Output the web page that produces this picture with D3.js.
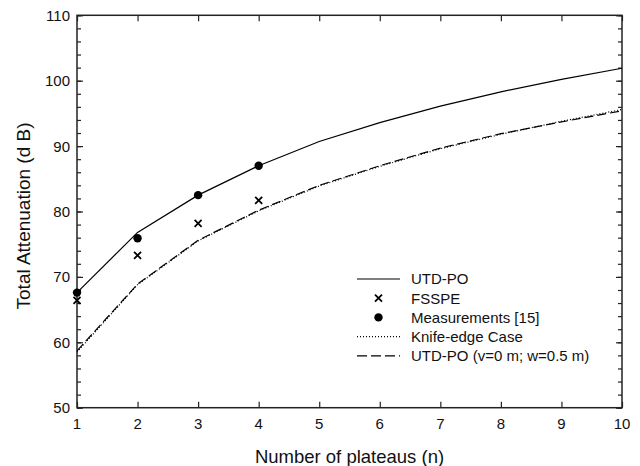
<!DOCTYPE html>
<html>
<head>
<meta charset="utf-8">
<script src="https://cdn.jsdelivr.net/npm/d3@7"></script>
<style>
  body { margin: 0; background: #fff; }
  svg { display: block; font-family: Arial, "Liberation Sans", sans-serif; }
</style>
</head>
<body>
<div id="chart"></div>
<script>
// values
var plateaus = [1, 2, 3, 4, 5, 6, 7, 8, 9, 10]
var utdPo = [67.6, 76.8, 82.5, 87.0, 90.7, 93.6, 96.1, 98.3, 100.2, 101.9]
var knifeEdge = [58.5, 68.8, 75.5, 80.1, 83.9, 86.9, 89.6, 91.8, 93.8, 95.6]
var utdPoFlat = [58.7, 68.9, 75.6, 80.2, 84.0, 87.0, 89.7, 91.9, 93.7, 95.4]
var measuredN = [1, 2, 3, 4]
var measurements = [67.6, 75.9, 82.5, 87.0]
var fsspe = [66.4, 73.3, 78.2, 81.7]
var xTicks = [1, 2, 3, 4, 5, 6, 7, 8, 9, 10]
var yTicks = [50, 60, 70, 80, 90, 100, 110]

var width = 640, height = 466
var plotL = 77, plotR = 622, plotT = 15.3, plotB = 407.7

var svg = d3.select("#chart").append("svg")
  .attr("width", width).attr("height", height)

var x = d3.scaleLinear().domain([1, 10]).range([plotL, plotR])
var y = d3.scaleLinear().domain([50, 110]).range([plotB, plotT])

var minorY = d3.range(50, 110.1, 2)
var axisColor = "#222"

function tickSet(g) {
  g.select(".domain").remove()
  g.selectAll("line").attr("stroke", axisColor).attr("stroke-width", 1.2)
}

// minor ticks (inward) on left and right
svg.append("g").attr("transform", "translate(" + plotL + ",0)")
  .call(d3.axisRight(y).tickValues(minorY).tickSize(4).tickFormat(""))
  .call(tickSet)
svg.append("g").attr("transform", "translate(" + plotR + ",0)")
  .call(d3.axisLeft(y).tickValues(minorY).tickSize(4).tickFormat(""))
  .call(tickSet)

// major ticks
svg.append("g").attr("transform", "translate(" + plotL + ",0)")
  .call(d3.axisRight(y).tickValues(yTicks).tickSize(6).tickFormat(""))
  .call(tickSet)
svg.append("g").attr("transform", "translate(" + plotR + ",0)")
  .call(d3.axisLeft(y).tickValues(yTicks).tickSize(6).tickFormat(""))
  .call(tickSet)
svg.append("g").attr("transform", "translate(0," + plotB + ")")
  .call(d3.axisTop(x).tickValues(xTicks).tickSize(6).tickFormat(""))
  .call(tickSet)
svg.append("g").attr("transform", "translate(0," + plotT + ")")
  .call(d3.axisBottom(x).tickValues(xTicks).tickSize(6).tickFormat(""))
  .call(tickSet)

// tick labels
svg.append("g").selectAll("text").data(yTicks).enter().append("text")
  .attr("x", plotL - 7).attr("y", function(d) { return y(d) })
  .attr("dy", "0.36em").attr("text-anchor", "end")
  .attr("font-size", 15).attr("fill", "#111")
  .text(function(d) { return d })
svg.append("g").selectAll("text").data(xTicks).enter().append("text")
  .attr("x", function(d) { return x(d) }).attr("y", 429)
  .attr("text-anchor", "middle")
  .attr("font-size", 15).attr("fill", "#111")
  .text(function(d) { return d })

// frame
svg.append("rect")
  .attr("x", plotL).attr("y", plotT)
  .attr("width", plotR - plotL).attr("height", plotB - plotT)
  .attr("fill", "none").attr("stroke", axisColor).attr("stroke-width", 1.5)

// axis titles
svg.append("text")
  .attr("x", (plotL + plotR) / 2).attr("y", 463)
  .attr("text-anchor", "middle").attr("font-size", 18.5).attr("fill", "#111")
  .text("Number of plateaus (n)")
svg.append("text")
  .attr("transform", "translate(30,216) rotate(-90)")
  .attr("text-anchor", "middle").attr("font-size", 19).attr("fill", "#111")
  .text("Total Attenuation (d B)")

// lines
function series(vals) {
  return d3.line()
    .x(function(d, i) { return x(plateaus[i]) })
    .y(function(d) { return y(d) })(vals)
}
svg.append("path").attr("d", series(knifeEdge))
  .attr("fill", "none").attr("stroke", "#000").attr("stroke-width", 1.2)
  .attr("stroke-dasharray", "1,2")
svg.append("path").attr("d", series(utdPoFlat))
  .attr("fill", "none").attr("stroke", "#000").attr("stroke-width", 1.2)
  .attr("stroke-dasharray", "9,4")
svg.append("path").attr("d", series(utdPo))
  .attr("fill", "none").attr("stroke", "#000").attr("stroke-width", 1.2)

// markers
function cross(g, cx, cy) {
  var s = 3.5
  g.append("path")
    .attr("d", "M" + (cx - s) + "," + (cy - s) + "L" + (cx + s) + "," + (cy + s) +
               "M" + (cx - s) + "," + (cy + s) + "L" + (cx + s) + "," + (cy - s))
    .attr("stroke", "#000").attr("stroke-width", 1.8)
}
var marks = svg.append("g")
measuredN.forEach(function(n, i) {
  cross(marks, x(n), y(fsspe[i]))
  marks.append("circle").attr("cx", x(n)).attr("cy", y(measurements[i]))
    .attr("r", 4.2).attr("fill", "#000")
})

// legend
var legend = svg.append("g")
var rows = [
  { label: "UTD-PO", kind: "solid" },
  { label: "FSSPE", kind: "cross" },
  { label: "Measurements [15]", kind: "dot" },
  { label: "Knife-edge Case", kind: "dotted" },
  { label: "UTD-PO (v=0 m; w=0.5 m)", kind: "dashed" }
]
var lx0 = 357, lx1 = 400, ly = 279, step = 19.2
rows.forEach(function(r, i) {
  var cy = ly + i * step
  if (r.kind == "cross") cross(legend, (lx0 + lx1) / 2, cy)
  else if (r.kind == "dot")
    legend.append("circle").attr("cx", (lx0 + lx1) / 2).attr("cy", cy).attr("r", 4.2).attr("fill", "#000")
  else
    legend.append("line").attr("x1", lx0).attr("x2", lx1).attr("y1", cy).attr("y2", cy)
      .attr("stroke", "#000").attr("stroke-width", 1.2)
      .attr("stroke-dasharray", r.kind == "dotted" ? "1,2" : r.kind == "dashed" ? "10,4" : null)
  legend.append("text").attr("x", 411).attr("y", cy).attr("dy", "0.36em")
    .attr("font-size", 15).attr("fill", "#111").text(r.label)
})
</script>
</body>
</html>
